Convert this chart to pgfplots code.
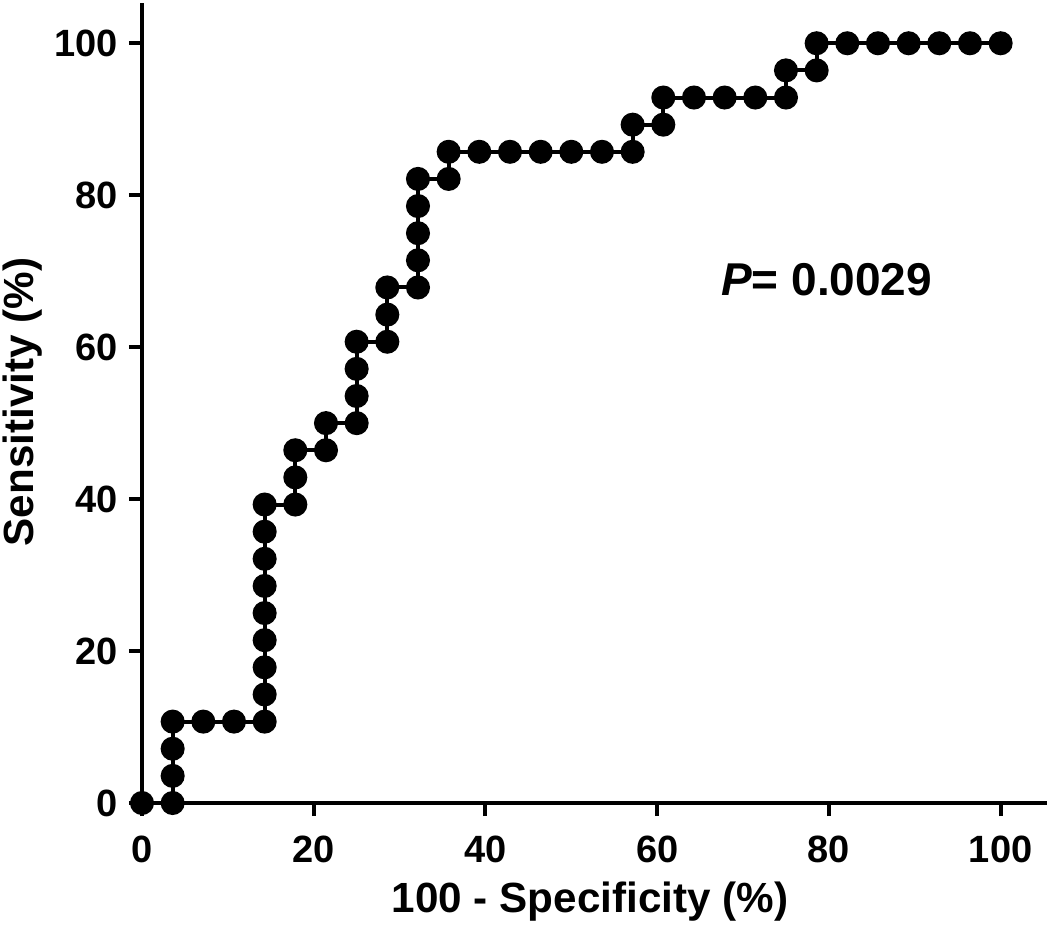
\documentclass[border=0pt]{standalone}
\usepackage{fontspec}
\setmainfont{Liberation Sans}
\usepackage{pgfplots}
\pgfplotsset{compat=1.18}
\begin{document}
\begin{tikzpicture}
\begin{axis}[
  scale only axis,
  width=452.5pt, height=400pt,
  xmin=0, xmax=105.4, ymin=0, ymax=105.3,
  axis lines=left,
  axis line style={line width=2pt, -},
  every tick/.style={line width=2pt, black},
  tick align=outside,
  major tick length=6.5pt,
  xtick={0,20,40,60,80,100},
  ytick={0,20,40,60,80,100},
  tick label style={font=\fontsize{19}{22}\selectfont\bfseries},
  /pgf/number format/assume math mode=true,
  xticklabel style={yshift=-6.5pt},
  yticklabel style={xshift=-2pt},
  clip=false,
]
\addplot[black, line width=2pt, mark=*, mark size=5pt, mark options={fill=black}] coordinates {
(0,0)
(3.571,0)(3.571,3.571)(3.571,7.143)(3.571,10.714)
(7.143,10.714)(10.714,10.714)
(14.286,10.714)(14.286,14.286)(14.286,17.857)(14.286,21.429)(14.286,25)(14.286,28.571)(14.286,32.143)(14.286,35.714)(14.286,39.286)
(17.857,39.286)(17.857,42.857)(17.857,46.429)
(21.429,46.429)(21.429,50)
(25,50)(25,53.571)(25,57.143)(25,60.714)
(28.571,60.714)(28.571,64.286)(28.571,67.857)
(32.143,67.857)(32.143,71.429)(32.143,75)(32.143,78.571)(32.143,82.143)
(35.714,82.143)(35.714,85.714)
(39.286,85.714)(42.857,85.714)(46.429,85.714)(50,85.714)(53.571,85.714)(57.143,85.714)
(57.143,89.286)
(60.714,89.286)(60.714,92.857)
(64.286,92.857)(67.857,92.857)(71.429,92.857)(75,92.857)
(75,96.429)
(78.571,96.429)(78.571,100)
(82.143,100)(85.714,100)(89.286,100)(92.857,100)(96.429,100)(100,100)
};
\node[anchor=west, font=\fontsize{23}{26}\selectfont\bfseries, inner sep=0pt] at (axis cs:67.4,68.9) {\textit{P}= 0.0029};
\end{axis}
\node[font=\fontsize{21.1}{24}\selectfont\bfseries, inner sep=0pt] at (224pt,-49.5pt) {100 - Specificity (\%)};
\node[font=\fontsize{21.1}{24}\selectfont\bfseries, inner sep=0pt, rotate=90] at (-59.5pt,200.5pt) {Sensitivity (\%)};
\pgfresetboundingbox
\path[use as bounding box] (-71pt,-62.5pt) rectangle (454pt,401.5pt);
\end{tikzpicture}
\end{document}
